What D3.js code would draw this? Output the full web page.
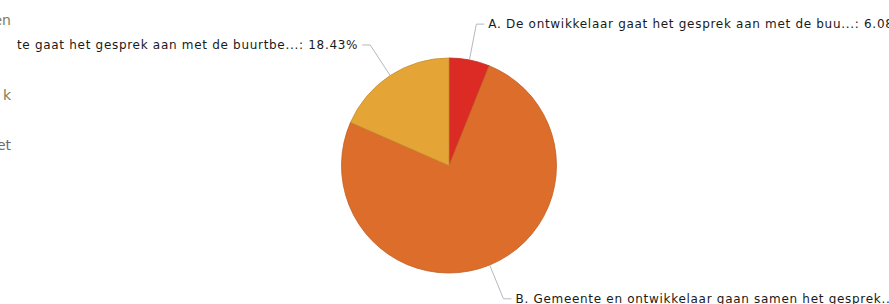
<!DOCTYPE html>
<html>
<head>
<meta charset="utf-8">
<script src="https://cdn.jsdelivr.net/npm/d3@7"></script>
<style>
  body { margin: 0; background: #fff; overflow: hidden; }
  svg { display: block; }
</style>
</head>
<body>
<svg></svg>
<script>
// slices, clockwise from 12 o'clock
var labels = [
    "A. De ontwikkelaar gaat het gesprek aan met de buu...",
    "B. Gemeente en ontwikkelaar gaan samen het gesprek...",
    "C. Gemeente gaat het gesprek aan met de buurtbe..."
];
var values = [6.08, 75.49, 18.43];
var colors = ["#dc2b25", "#dd6d2b", "#e4a536"];

// legend fragments cut off at the left edge, and the legend line each sits on
var legendBits = ["en", "k", "et"];
var legendLines = [0, 3, 5];

var width = 889, height = 304;
var cx = 449, cy = 165.5, radius = 107.5;

var svg = d3.select("svg")
    .attr("width", width)
    .attr("height", height);

var g = svg.append("g")
    .attr("transform", "translate(" + cx + "," + cy + ")");

var data = values.map(function (v, i) {
    return { label: labels[i], value: v, color: colors[i] };
});

var pie = d3.pie()
    .sort(null)
    .value(function (d) { return d.value; });

var arc = d3.arc().innerRadius(0).outerRadius(radius);

var arcs = pie(data);

// slices
g.selectAll("path.slice")
    .data(arcs)
    .enter()
    .append("path")
    .attr("class", "slice")
    .attr("d", arc)
    .attr("fill", function (d) { return d.data.color; })
    .attr("stroke", function (d) { return d3.color(d.data.color).darker(0.4); })
    .attr("stroke-width", 0.8);

// leader lines + labels
function pointAt(a, r) {
    return [Math.sin(a) * r, -Math.cos(a) * r];
}

arcs.forEach(function (d) {
    var mid = (d.startAngle + d.endAngle) / 2;
    var p0 = pointAt(mid, radius);
    var p1 = pointAt(mid, 144);
    var right = p1[0] > 0;
    var p2 = [p1[0] + (right ? 8 : -8), p1[1]];

    g.append("polyline")
        .attr("points", [p0, p1, p2].map(function (p) { return p.join(","); }).join(" "))
        .attr("fill", "none")
        .attr("stroke", "#b4b9bf")
        .attr("stroke-width", 1);

    g.append("text")
        .attr("x", p2[0] + (right ? 4 : -4))
        .attr("y", p2[1])
        .attr("dy", "0.35em")
        .attr("text-anchor", right ? "start" : "end")
        .style("font-family", "'DejaVu Sans', Verdana, sans-serif")
        .style("font-size", "12px")
        .style("letter-spacing", "0.7px")
        .style("fill", "#1a1a1a")
        .text(d.data.label + ": " + d3.format(".2f")(d.data.value) + "%");
});

// left legend (only its ends are visible); its panel covers the label behind it
var legend = svg.append("g").attr("class", "legend");

legend.append("rect")
    .attr("x", 0)
    .attr("y", 0)
    .attr("width", 16)
    .attr("height", height)
    .attr("fill", "#fff");

var legendY = d3.scaleLinear()
    .domain([0, 5])
    .range([20, 145]);

legend.selectAll("text")
    .data(legendBits)
    .enter()
    .append("text")
    .attr("x", 11)
    .attr("y", function (d, i) { return legendY(legendLines[i]); })
    .attr("dy", "0.35em")
    .attr("text-anchor", "end")
    .style("font-family", "'DejaVu Sans', Verdana, sans-serif")
    .style("font-size", "14px")
    .style("fill", function (d, i) { return i < 2 ? "#7d7d5c" : "#6a6a6a"; })
    .text(function (d) { return d; });
</script>
</body>
</html>
